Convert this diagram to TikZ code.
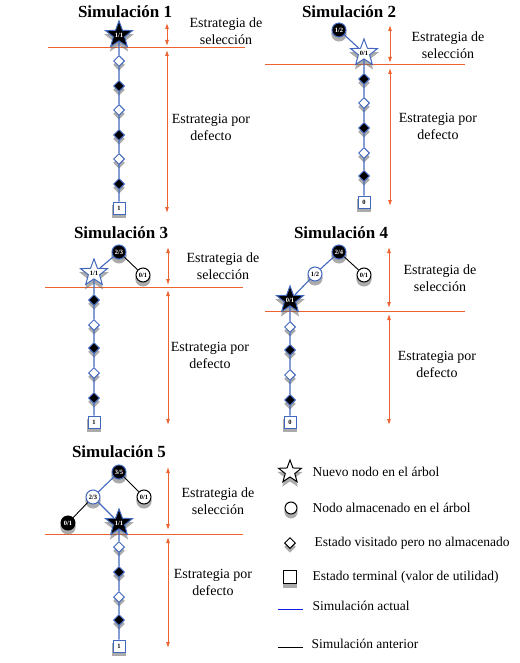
\documentclass[tikz,border=0pt]{standalone}
\usepackage{fontspec}
\setmainfont{Liberation Serif}
\usepackage{tikz}
\usetikzlibrary{positioning,
        shapes,
        shadows,
        arrows.meta}
\usepackage{xcolor}
\definecolor{cutred}{RGB}{238,98,48}
\definecolor{simblue}{RGB}{66,104,190}
\definecolor{keyblue}{RGB}{20,30,230}

\begin{document}
\begin{tikzpicture}[x=1pt,y=-1pt,
        title/.style={font=\fontsize{17}{19}\selectfont\bfseries},
        phase/.style={font=\fontsize{14}{17}\selectfont,align=center},
        legtext/.style={font=\fontsize{13.5}{15}\selectfont,anchor=west},
        cut/.style={cutred,line width=1pt},
        span/.style={cutred,line width=0.9pt,{Latex[length=6pt,width=4pt]}-{Latex[length=6pt,width=4pt]}},
        nd/.style={draw,line width=1pt,inner sep=0pt,font=\fontsize{6.5}{7}\selectfont\bfseries,
                drop shadow={shadow xshift=0pt,shadow yshift=-3.5pt,shadow scale=1.1,opacity=0.55,fill=black!60}},
        treenode/.style={nd,circle,minimum size=14pt},
        newnode/.style={nd,star,star points=5,star point ratio=2.4,minimum size=22pt},
        visited/.style={nd,diamond,aspect=1,minimum size=11pt},
        terminal/.style={nd,rectangle,minimum size=12pt},
        cur/.style={draw=simblue},
        old/.style={draw=black},
        dark/.style={fill=black,text=white},
        light/.style={fill=white,text=black},
        actual/.style={draw=simblue,line width=1.1pt},
        previous/.style={draw=black,line width=0.9pt}]
    \useasboundingbox (0,0) rectangle (519,663);

    % Simulacion 1
    \node [title] (t1) at (125,12) {Simulación 1};
    \coordinate (c1l) at (48,48);
    \coordinate (c1r) at (245,48);
    \draw [cut] (c1l) -- (c1r);
    \coordinate (a1top) at (167,23);
    \coordinate (a1up) at (167,46);
    \coordinate (a1dn) at (167,50);
    \coordinate (a1bot) at (167,213);
    \draw [span] (a1top) -- (a1up);
    \draw [span] (a1dn) -- (a1bot);
    \node [phase] (sel1) at (226,31) {Estrategia de\\selección};
    \node [phase] (def1) at (211,127) {Estrategia por\\defecto};
    \node [newnode,cur,dark] (n1) at (119,35) {1/1};
    \node [visited,cur,light] (d11) at (119,61) {};
    \node [visited,cur,dark] (d12) at (119,86) {};
    \node [visited,cur,light] (d13) at (119,110) {};
    \node [visited,cur,dark] (d14) at (119,135) {};
    \node [visited,cur,light] (d15) at (119,159) {};
    \node [visited,cur,dark] (d16) at (119,184) {};
    \node [terminal,cur,light] (e1) at (119,208) {1};
    \draw [actual] (n1) -- (d11) -- (d12) -- (d13) -- (d14) -- (d15) -- (d16) -- (e1);

    % Simulacion 2
    \node [title] (t2) at (349,12) {Simulación 2};
    \coordinate (c2l) at (265,65);
    \coordinate (c2r) at (465,65);
    \draw [cut] (c2l) -- (c2r);
    \coordinate (a2top) at (390,25);
    \coordinate (a2up) at (390,63);
    \coordinate (a2dn) at (390,68);
    \coordinate (a2bot) at (390,206);
    \draw [span] (a2top) -- (a2up);
    \draw [span] (a2dn) -- (a2bot);
    \node [phase] (sel2) at (448,45) {Estrategia de\\selección};
    \node [phase] (def2) at (438,126) {Estrategia por\\defecto};
    \node [treenode,cur,dark] (r2) at (339,30) {1/2};
    \node [newnode,cur,light] (n2) at (364,53) {0/1};
    \node [visited,cur,dark] (d21) at (364,79) {};
    \node [visited,cur,light] (d22) at (364,103) {};
    \node [visited,cur,dark] (d23) at (364,128) {};
    \node [visited,cur,light] (d24) at (364,153) {};
    \node [visited,cur,dark] (d25) at (364,176) {};
    \node [terminal,cur,light] (e2) at (364,202) {0};
    \draw [actual] (r2) -- (n2);
    \draw [actual] (n2) -- (d21) -- (d22) -- (d23) -- (d24) -- (d25) -- (e2);

    % Simulacion 3
    \node [title] (t3) at (121,233) {Simulación 3};
    \coordinate (c3l) at (45,287);
    \coordinate (c3r) at (243,287);
    \draw [cut] (c3l) -- (c3r);
    \coordinate (a3top) at (168,247);
    \coordinate (a3up) at (168,285);
    \coordinate (a3dn) at (168,290);
    \coordinate (a3bot) at (168,425);
    \draw [span] (a3top) -- (a3up);
    \draw [span] (a3dn) -- (a3bot);
    \node [phase] (sel3) at (223,266) {Estrategia de\\selección};
    \node [phase] (def3) at (210,355) {Estrategia por\\defecto};
    \node [treenode,cur,dark] (r3) at (119,252) {2/3};
    \node [treenode,old,light] (q3) at (143,275) {0/1};
    \node [newnode,cur,light] (n3) at (94,273) {1/1};
    \node [visited,cur,dark] (d31) at (94,300) {};
    \node [visited,cur,light] (d32) at (94,325) {};
    \node [visited,cur,dark] (d33) at (94,348) {};
    \node [visited,cur,light] (d34) at (94,373) {};
    \node [visited,cur,dark] (d35) at (94,398) {};
    \node [terminal,cur,light] (e3) at (94,422) {1};
    \draw [previous] (r3) -- (q3);
    \draw [actual] (r3) -- (n3);
    \draw [actual] (n3) -- (d31) -- (d32) -- (d33) -- (d34) -- (d35) -- (e3);

    % Simulacion 4
    \node [title] (t4) at (341,233) {Simulación 4};
    \coordinate (c4l) at (265,311);
    \coordinate (c4r) at (465,311);
    \draw [cut] (c4l) -- (c4r);
    \coordinate (a4top) at (389,247);
    \coordinate (a4up) at (389,308);
    \coordinate (a4dn) at (389,314);
    \coordinate (a4bot) at (389,425);
    \draw [span] (a4top) -- (a4up);
    \draw [span] (a4dn) -- (a4bot);
    \node [phase] (sel4) at (440,278) {Estrategia de\\selección};
    \node [phase] (def4) at (437,364) {Estrategia por\\defecto};
    \node [treenode,cur,dark] (r4) at (339,252) {2/4};
    \node [treenode,cur,light] (m4) at (315,274) {1/2};
    \node [treenode,old,light] (q4) at (364,275) {0/1};
    \node [newnode,cur,dark] (n4) at (290,300) {0/1};
    \node [visited,cur,light] (d41) at (290,327) {};
    \node [visited,cur,dark] (d42) at (290,350) {};
    \node [visited,cur,light] (d43) at (290,375) {};
    \node [visited,cur,dark] (d44) at (290,400) {};
    \node [terminal,cur,light] (e4) at (290,422) {0};
    \draw [previous] (r4) -- (q4);
    \draw [actual] (r4) -- (m4);
    \draw [actual] (m4) -- (n4);
    \draw [actual] (n4) -- (d41) -- (d42) -- (d43) -- (d44) -- (e4);

    % Simulacion 5
    \node [title] (t5) at (119,452) {Simulación 5};
    \coordinate (c5l) at (45,534);
    \coordinate (c5r) at (243,534);
    \draw [cut] (c5l) -- (c5r);
    \coordinate (a5top) at (168,467);
    \coordinate (a5up) at (168,530);
    \coordinate (a5dn) at (168,537);
    \coordinate (a5bot) at (168,648);
    \draw [span] (a5top) -- (a5up);
    \draw [span] (a5dn) -- (a5bot);
    \node [phase] (sel5) at (218,501) {Estrategia de\\selección};
    \node [phase] (def5) at (213,582) {Estrategia por\\defecto};
    \node [treenode,cur,dark] (r5) at (119,472) {3/5};
    \node [treenode,cur,light] (m5) at (93,497) {2/3};
    \node [treenode,old,light] (q5) at (144,497) {0/1};
    \node [treenode,old,dark] (p5) at (68,523) {0/1};
    \node [newnode,cur,dark] (n5) at (119,523) {1/1};
    \node [visited,cur,light] (d51) at (119,547) {};
    \node [visited,cur,dark] (d52) at (119,572) {};
    \node [visited,cur,light] (d53) at (119,597) {};
    \node [visited,cur,dark] (d54) at (119,620) {};
    \node [terminal,cur,light] (e5) at (119,646) {1};
    \draw [previous] (r5) -- (q5);
    \draw [previous] (m5) -- (p5);
    \draw [actual] (r5) -- (m5);
    \draw [actual] (m5) -- (n5);
    \draw [actual] (n5) -- (d51) -- (d52) -- (d53) -- (d54) -- (e5);

    % Leyenda
    \node [newnode,old,light,minimum size=24pt] (kstar) at (290,472) {};
    \node [treenode,old,light,minimum size=12pt] (kcirc) at (291,508) {};
    \node [visited,old,light] (kdiam) at (290,543) {};
    \node [terminal,old,light,minimum size=13pt] (ksq) at (290,577) {};
    \coordinate (kb1) at (278,609);
    \coordinate (kb2) at (303,609);
    \coordinate (kk1) at (278,647);
    \coordinate (kk2) at (303,647);
    \draw [draw=keyblue,line width=1pt] (kb1) -- (kb2);
    \draw [previous] (kk1) -- (kk2);
    \node [legtext] (lstar) at (309,472) {Nuevo nodo en el árbol};
    \node [legtext] (lcirc) at (309,508) {Nodo almacenado en el árbol};
    \node [legtext] (ldiam) at (311,543) {Estado visitado pero no almacenado};
    \node [legtext] (lsq) at (309,577) {Estado terminal (valor de utilidad)};
    \node [legtext] (lact) at (309,606) {Simulación actual};
    \node [legtext] (lant) at (308,644) {Simulación anterior};
\end{tikzpicture}
\end{document}
